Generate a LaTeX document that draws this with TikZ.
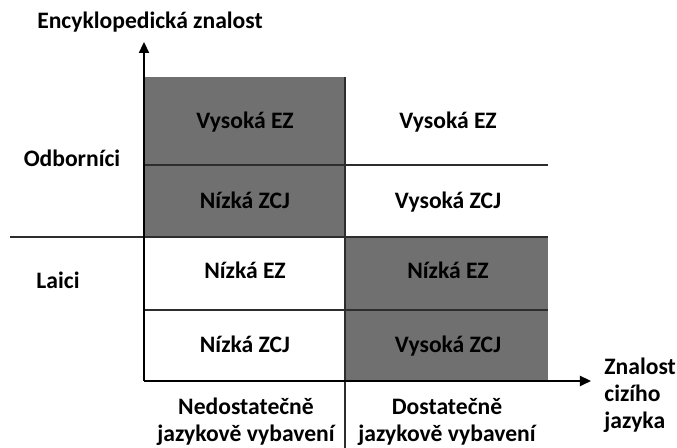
\documentclass[tikz,border=0pt]{standalone}
\usepackage{fontspec}
\setmainfont{Carlito}
\usetikzlibrary{arrows.meta,positioning}
\definecolor{Cdark}{RGB}{112,112,112}
\definecolor{Cline}{RGB}{45,45,45}

\begin{document}
\begin{tikzpicture}[x=0.5pt,y=-0.5pt,
    lbl/.style={font=\fontsize{11.8}{13.5}\selectfont\bfseries,align=center,inner sep=0pt},
    celltext/.style={lbl,text height=9pt,text depth=2.5pt},
    grid/.style={Cline,line width=0.8pt},
    axis/.style={black,line width=1.1pt,-{Triangle[length=5.5pt,width=5pt]}}]
  \useasboundingbox (0,0) rectangle (677,448);
  % shaded blocks
  \fill[Cdark] (145,77) rectangle (345,237);
  \fill[Cdark] (345,237) rectangle (548,381);
  % grid lines
  \draw[grid] (145,165) -- (548,165);
  \draw[grid,line width=1pt] (10,237) -- (548,237);
  \draw[grid] (145,310) -- (548,310);
  \draw[grid] (345,77) -- (345,448);
  % axes
  \coordinate (o) at (144,381);
  \coordinate (ytip) at (144,42);
  \coordinate (xtip) at (591,381);
  \draw[axis] (o) -- (ytip);
  \draw[axis] (o) -- (xtip);
  % cell texts
  \node[celltext] (a1) at (245,122) {Vysoká EZ};
  \node[celltext] (a2) at (245,202) {Nízká ZCJ};
  \node[celltext] (a3) at (245,272) {Nízká EZ};
  \node[celltext] (a4) at (245,346) {Nízká ZCJ};
  \node[celltext] (b1) at (448,122) {Vysoká EZ};
  \node[celltext] (b2) at (448,202) {Vysoká ZCJ};
  \node[celltext] (b3) at (448,272) {Nízká EZ};
  \node[celltext] (b4) at (448,346) {Vysoká ZCJ};
  % axis labels
  \node[celltext] (ylab) at (150,22) {Encyklopedická znalost};
  \node[celltext] (odb) at (72,160) {Odborníci};
  \node[celltext] (lai) at (58,282) {Laici};
  \node[lbl] (nedo) at (246,422) {Nedostatečně\\jazykově vybavení};
  \node[lbl] (dost) at (447,422) {Dostatečně\\jazykově vybavení};
  \node[lbl,align=left,anchor=west] (xlab) at (604,395) {Znalost\\cizího\\jazyka};
\end{tikzpicture}
\end{document}
